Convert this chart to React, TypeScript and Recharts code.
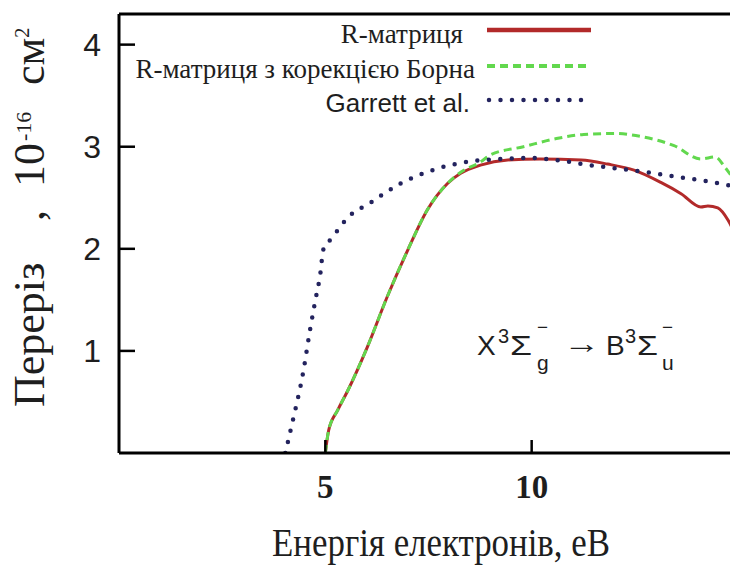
import React from 'react';
import { LineChart, Line, XAxis, YAxis, Legend, Customized } from 'recharts';

// Electron impact excitation cross section, units of 1e-16 cm^2, vs electron energy (eV)
const energyRMatrix = [5.0, 5.08, 5.3, 5.53, 6.02, 6.5, 7.0, 7.47, 7.96, 8.28, 8.76, 9.42, 10.2, 11.2, 11.84, 12.48, 13.13, 13.62, 14.1, 14.27, 14.51, 14.76, 15.0];
const sigmaRMatrix = [0, 0.22, 0.42, 0.6, 1.04, 1.53, 1.99, 2.38, 2.64, 2.74, 2.82, 2.87, 2.88, 2.87, 2.83, 2.77, 2.65, 2.54, 2.41, 2.42, 2.4, 2.28, 2.08];

const energyBorn = [5.0, 5.08, 5.3, 5.53, 6.02, 6.5, 7.0, 7.47, 7.96, 8.28, 8.76, 9.0, 9.8, 10.6, 11.26, 12.0, 12.65, 13.45, 14.1, 14.45, 14.68, 15.0];
const sigmaBorn = [0, 0.22, 0.42, 0.6, 1.04, 1.53, 1.99, 2.38, 2.64, 2.75, 2.85, 2.92, 3.0, 3.08, 3.12, 3.13, 3.1, 3.01, 2.88, 2.9, 2.8, 2.62];

const energyGarrett = [4.03, 4.23, 4.44, 4.64, 4.76, 4.88, 4.95, 5.17, 5.53, 6.09, 6.82, 7.38, 8.03, 8.6, 9.25, 9.9, 10.6, 11.4, 12.0, 12.96, 13.6, 14.27, 14.8, 15.0];
const sigmaGarrett = [0, 0.35, 0.74, 1.23, 1.5, 1.76, 1.99, 2.11, 2.3, 2.45, 2.64, 2.74, 2.82, 2.86, 2.88, 2.89, 2.87, 2.82, 2.79, 2.74, 2.7, 2.66, 2.62, 2.6];

const seriesNames = ['R-матриця', 'R-матриця з корекцією Борна', 'Garrett et al.'];
const xTicks = [5, 10];
const yTicks = [1, 2, 3, 4];
const xDomain = [0, 15];
const yDomain = [0, 4.3];

const xTitle = 'Енергія електронів, еВ';

const toPoints = (xs: number[], ys: number[]) => xs.map((e, i) => ({ e, s: ys[i] }));

const rMatrixPoints = toPoints(energyRMatrix, sigmaRMatrix);
const bornPoints = toPoints(energyBorn, sigmaBorn);
const garrettPoints = toPoints(energyGarrett, sigmaGarrett);

const RED = '#b22a2a';
const GREEN = '#62d84e';
const NAVY = '#23235e';
const INK = '#1e1e1e';

const SERIF = 'Liberation Serif';
const SANS = 'Liberation Sans';

const LegendBox = () => (
  <svg width={730} height={120} style={{ display: 'block' }}>
    <text x={463} y={43} textAnchor="end" fontFamily={SERIF} fontSize={27} fill={INK}>{seriesNames[0]}</text>
    <line x1={487} y1={30} x2={591} y2={30} stroke={RED} strokeWidth={4.5} />
    <text x={475} y={78} textAnchor="end" fontFamily={SERIF} fontSize={27} fill={INK}>{seriesNames[1]}</text>
    <line x1={487} y1={66} x2={591} y2={66} stroke={GREEN} strokeWidth={4} strokeDasharray="8 5" />
    <text x={470} y={112} textAnchor="end" fontFamily={SANS} fontSize={26} fill={INK}>{seriesNames[2]}</text>
    <line x1={489} y1={100} x2={582} y2={100} stroke={NAVY} strokeWidth={4.5} strokeDasharray="0 11.5" strokeLinecap="round" />
  </svg>
);

const XTitle = (props: any) => {
  const vb = props.viewBox || { x: 119, y: 453, width: 619, height: 112 };
  return (
    <text
      x={vb.x + 153}
      y={vb.y + 103}
      textLength={338}
      lengthAdjust="spacingAndGlyphs"
      fontFamily={SERIF}
      fontSize={41}
      fill={INK}
    >
      {xTitle}
    </text>
  );
};

// Rotated title: pieces laid out along the vertical baseline
const YTitle = (props: any) => {
  const vb = props.viewBox || { x: 0, y: 14, width: 119, height: 439 };
  const bottom = vb.y + 393;
  return (
    <text transform={`translate(44, ${bottom}) rotate(-90)`} fontFamily={SERIF} fontSize={44} fill={INK}>
      <tspan x={0} y={0}>Переріз</tspan>
      <tspan x={186} y={0}>,</tspan>
      <tspan x={220} y={0}>10</tspan>
      <tspan x={266} y={-13} fontSize={22}>-16</tspan>
      <tspan x={322} y={0}>см</tspan>
      <tspan x={369} y={-15} fontSize={21}>2</tspan>
    </text>
  );
};

const Transition = () => (
  <g fontFamily={SANS} fill={INK}>
    <text x={477} y={355} fontSize={28}>X</text>
    <text x={498} y={343} fontSize={20}>3</text>
    <text x={510} y={355} fontSize={28} textLength={22} lengthAdjust="spacingAndGlyphs">Σ</text>
    <text x={537} y={334} fontSize={20} textLength={11} lengthAdjust="spacingAndGlyphs">−</text>
    <text x={537} y={370} fontSize={21}>g</text>
    <text x={563} y={353} fontSize={28} textLength={37} lengthAdjust="spacingAndGlyphs">→</text>
    <text x={606} y={355} fontSize={28}>B</text>
    <text x={625} y={343} fontSize={20}>3</text>
    <text x={637} y={355} fontSize={28} textLength={21} lengthAdjust="spacingAndGlyphs">Σ</text>
    <text x={662} y={334} fontSize={20} textLength={11} lengthAdjust="spacingAndGlyphs">−</text>
    <text x={662} y={370} fontSize={21}>u</text>
  </g>
);

export default function App() {
  return (
    <div style={{ position: 'absolute', left: 0, top: 0, width: 730, height: 565, overflow: 'hidden', background: '#fff' }}>
      <LineChart width={760} height={565} margin={{ top: 13, right: 0, bottom: 0, left: 0 }}>
        <XAxis
          xAxisId="bottom"
          dataKey="e"
          type="number"
          domain={xDomain}
          ticks={xTicks}
          allowDataOverflow
          orientation="bottom"
          height={112}
          axisLine={{ stroke: '#000', strokeWidth: 3 }}
          tickLine={{ stroke: '#000', strokeWidth: 2.5 }}
          tickSize={-13}
          tickMargin={35}
          tick={{ fontSize: 33, fontFamily: SERIF, fontWeight: 'bold', fill: INK }}
          label={<XTitle />}
        />
        <XAxis
          xAxisId="top"
          dataKey="e"
          type="number"
          domain={xDomain}
          ticks={xTicks}
          allowDataOverflow
          orientation="top"
          height={1}
          axisLine={{ stroke: '#000', strokeWidth: 3 }}
          tickLine={{ stroke: '#000', strokeWidth: 2.5 }}
          tickSize={-9}
          tick={false}
        />
        <YAxis
          yAxisId="left"
          type="number"
          domain={yDomain}
          ticks={yTicks}
          allowDataOverflow
          orientation="left"
          width={119}
          axisLine={{ stroke: '#000', strokeWidth: 3 }}
          tickLine={{ stroke: '#000', strokeWidth: 2.5 }}
          tickSize={-16}
          tickMargin={34}
          tick={{ fontSize: 32, fontFamily: SANS, fill: INK }}
          label={<YTitle />}
        />
        <YAxis
          yAxisId="right"
          type="number"
          domain={yDomain}
          ticks={yTicks}
          allowDataOverflow
          orientation="right"
          width={22}
          axisLine={{ stroke: '#000', strokeWidth: 3 }}
          tickLine={{ stroke: '#000', strokeWidth: 2.5 }}
          tickSize={-10}
          tick={false}
        />
        <Line
          xAxisId="bottom"
          yAxisId="left"
          data={rMatrixPoints}
          dataKey="s"
          name={seriesNames[0]}
          type="monotone"
          stroke={RED}
          strokeWidth={3}
          dot={false}
          activeDot={false}
          isAnimationActive={false}
        />
        <Line
          xAxisId="bottom"
          yAxisId="left"
          data={bornPoints}
          dataKey="s"
          name={seriesNames[1]}
          type="monotone"
          stroke={GREEN}
          strokeWidth={3}
          strokeDasharray="8 5"
          dot={false}
          activeDot={false}
          isAnimationActive={false}
        />
        <Line
          xAxisId="bottom"
          yAxisId="left"
          data={garrettPoints}
          dataKey="s"
          name={seriesNames[2]}
          type="monotone"
          stroke={NAVY}
          strokeWidth={4.5}
          strokeDasharray="0 11.5"
          strokeLinecap="round"
          dot={false}
          activeDot={false}
          isAnimationActive={false}
        />
        <Legend
          layout="horizontal"
          verticalAlign="middle"
          content={<LegendBox />}
          wrapperStyle={{ position: 'absolute', left: 0, top: 0, width: 730, height: 120, pointerEvents: 'none' }}
        />
        <Customized component={<Transition />} />
      </LineChart>
    </div>
  );
}
